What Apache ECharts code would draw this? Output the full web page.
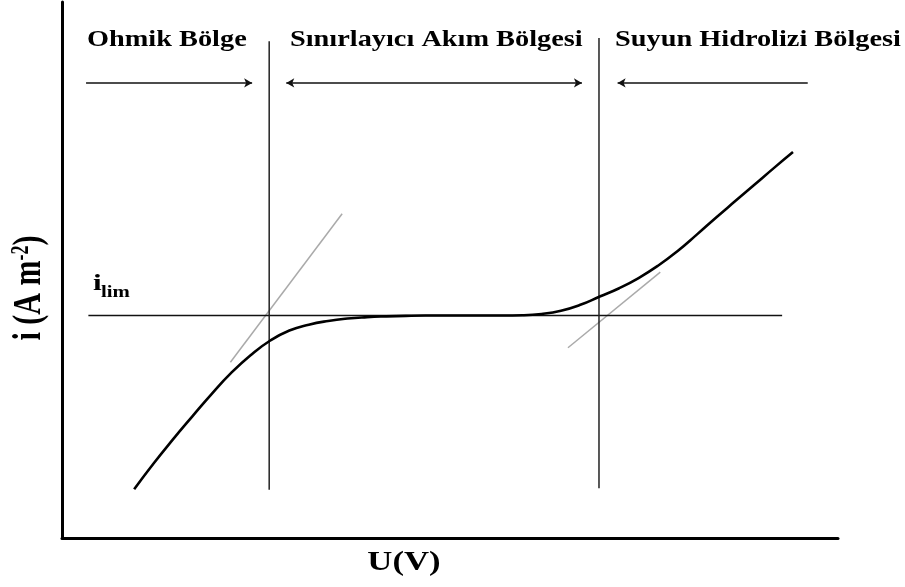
<!DOCTYPE html>
<html>
<head>
<meta charset="utf-8">
<script src="https://cdn.jsdelivr.net/npm/echarts@6/dist/echarts.min.js"></script>
<style>html,body{margin:0;padding:0;background:#fff;}#c{width:905px;height:587px;}</style>
</head>
<body>
<div id="c"></div>
<script>
// Polarization curve (arbitrary units 0..100 on both axes)
const voltage = [9.3, 11.8, 14.3, 16.8, 19.3, 21.8, 24.3, 26.8, 29.3, 31.8, 34.3, 36.8, 39.3, 41.8, 44.3, 46.8, 49.3, 51.8, 54.3, 56.8, 59.3, 61.8, 64.3, 66.8, 69.3, 71.8, 74.3, 76.8, 79.3, 81.8, 84.3, 86.8, 89.3, 91.8, 94.2];
const current = [9.1, 13.9, 18.4, 22.7, 26.9, 30.8, 34.1, 36.8, 38.7, 39.8, 40.5, 40.95, 41.2, 41.35, 41.45, 41.5, 41.5, 41.5, 41.5, 41.5, 41.55, 41.8, 42.4, 43.5, 45.05, 46.6, 48.5, 50.8, 53.5, 56.6, 59.8, 62.9, 66.0, 69.1, 72.0];
const limitCurrent = 41.5;
const limitLineX = [3.4, 92.8];
const boundaryU = [26.7, 69.2];
const boundaryRange = [[9.0, 92.7], [9.3, 93.3]];
const tangentOhmic = [[21.7, 32.8], [36.1, 60.5]];
const tangentWater = [[65.2, 35.5], [77.1, 49.6]];
const arrowY = 84.9;
const arrowOhmic = [3.1, 24.5];
const arrowLimit = [28.9, 67.0];
const arrowWater = [71.6, 96.1];
const regionLabels = ['Ohmik Bölge', 'Sınırlayıcı Akım Bölgesi', 'Suyun Hidrolizi Bölgesi'];

const chart = echarts.init(document.getElementById('c'), null, {renderer: 'canvas'});
const serif = "'Liberation Serif','Times New Roman',serif";
const noAxis = {
  type: 'value', min: 0, max: 100,
  axisLine: {show: true, onZero: false, lineStyle: {color: '#000', width: 3}},
  axisTick: {show: false}, axisLabel: {show: false}, splitLine: {show: false}
};
function seg(p, q) { return [{coord: p}, {coord: q}]; }

chart.setOption({
  animation: false,
  backgroundColor: '#fff',
  grid: {left: 62, right: 67, top: 2, bottom: 49},
  xAxis: noAxis,
  yAxis: noAxis,
  series: [
    {
      type: 'line', data: voltage.map((u, k) => [u, current[k]]),
      smooth: 0.5, showSymbol: false, symbol: 'none',
      lineStyle: {color: '#000', width: 2.6}, z: 5
    },
    {
      type: 'line', data: limitLineX.map(u => [u, limitCurrent]),
      showSymbol: false, symbol: 'none', lineStyle: {color: '#111', width: 1.5}, z: 3
    },
    {
      type: 'line', data: boundaryRange[0].map(v => [boundaryU[0], v]),
      showSymbol: false, symbol: 'none', lineStyle: {color: '#222', width: 1.5}, z: 3
    },
    {
      type: 'line', data: boundaryRange[1].map(v => [boundaryU[1], v]),
      showSymbol: false, symbol: 'none', lineStyle: {color: '#222', width: 1.5}, z: 3
    },
    {
      type: 'line', data: tangentOhmic,
      showSymbol: false, symbol: 'none', lineStyle: {color: '#aaa', width: 1.5}, z: 2
    },
    {
      type: 'line', data: tangentWater,
      showSymbol: false, symbol: 'none', lineStyle: {color: '#aaa', width: 1.5}, z: 2
    },
    {
      type: 'line', data: [], silent: true,
      markLine: {
        silent: true, animation: false,
        label: {show: false},
        lineStyle: {color: '#111', width: 1.5, type: 'solid'},
        symbolSize: [7, 8],
        data: [
          seg([arrowOhmic[0], arrowY], [arrowOhmic[1], arrowY]),
          seg([arrowLimit[0], arrowY], [arrowLimit[1], arrowY]),
          seg([arrowWater[0], arrowY], [arrowWater[1], arrowY])
        ].map((d, k) => {
          const sym = [['none', 'arrow'], ['arrow', 'arrow'], ['arrow', 'none']][k];
          d[0].symbol = sym[0]; d[1].symbol = sym[1];
          return d;
        })
      }
    }
  ],
  graphic: [
    {type: 'text', x: 87, y: 40, scaleX: 1.18, style: {text: regionLabels[0], font: "bold 24px " + serif, fill: '#000', align: 'left', verticalAlign: 'middle'}},
    {type: 'text', x: 290, y: 40, scaleX: 1.18, style: {text: regionLabels[1], font: "bold 24px " + serif, fill: '#000', align: 'left', verticalAlign: 'middle'}},
    {type: 'text', x: 615, y: 40, scaleX: 1.18, style: {text: regionLabels[2], font: "bold 24px " + serif, fill: '#000', align: 'left', verticalAlign: 'middle'}},
    {type: 'text', x: 93, y: 284, scaleX: 1.3, style: {text: 'i', font: "bold 24px " + serif, fill: '#000', align: 'left', verticalAlign: 'middle'}},
    {type: 'text', x: 101, y: 293, scaleX: 1.3, style: {text: 'lim', font: "bold 16px " + serif, fill: '#000', align: 'left', verticalAlign: 'middle'}},
    {type: 'text', x: 404, y: 563, scaleX: 1.24, style: {text: 'U(V)', font: "bold 28px " + serif, fill: '#000', align: 'center', verticalAlign: 'middle'}},
    {type: 'text', x: 30, y: 288, rotation: Math.PI / 2, scaleY: 1.35,
      style: {
        text: '{a|i (A m}{s|-2}{a|)}', align: 'center', verticalAlign: 'middle', fill: '#000',
        rich: {
          a: {fontFamily: serif, fontWeight: 'bold', fontSize: 30, fill: '#000'},
          s: {fontFamily: serif, fontWeight: 'bold', fontSize: 18, fill: '#000', verticalAlign: 'top'}
        }
      }}
  ]
});
</script>
</body>
</html>
